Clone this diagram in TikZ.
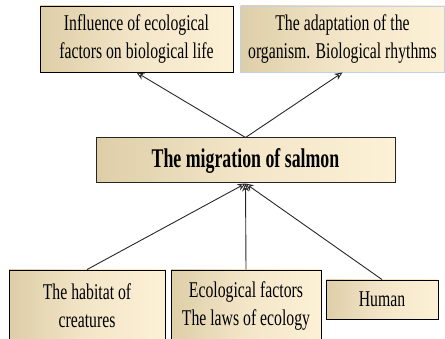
\documentclass[tikz,border=0pt]{standalone}
\usepackage{fontspec}
\setmainfont{Liberation Serif}[FakeStretch=0.7]
\newfontfamily\titlefont{Liberation Serif}[FakeStretch=0.66]
\usetikzlibrary{arrows.meta}
\definecolor{tanL}{RGB}{222,206,168}
\definecolor{tanR}{RGB}{252,240,214}
\definecolor{lineC}{RGB}{40,40,40}
\definecolor{blueB}{RGB}{196,208,228}
\tikzset{
  box/.style={draw=black, line width=0.9pt, left color=tanL, right color=tanR, middle color=tanR!70!tanL,
    align=center, inner sep=0pt, font=\fontsize{22.5}{28}\selectfont},
  conn/.style={draw=lineC, line width=0.9pt, -{Stealth[length=8pt,width=7pt,open]}},
}
\begin{document}
\begin{tikzpicture}[x=1pt,y=-1pt]
\useasboundingbox (0,0) rectangle (445,339);
\node[box, minimum width=193pt, minimum height=66pt] (tl) at (136.5,39) {Influence of ecological\\factors on biological life};
\node[box, draw=blueB, minimum width=204pt, minimum height=66pt] (tr) at (342.5,39) {The adaptation of the\\organism. Biological rhythms};
\node[box, line width=1pt, draw=black!85, minimum width=299pt, minimum height=45pt, font=\titlefont\fontsize{27}{30}\selectfont\bfseries] (mid) at (245.5,160.5) {The migration of salmon};
\node[box, minimum width=156pt, minimum height=72pt] (bl) at (87,306) {The habitat of\\creatures};
\node[box, minimum width=150pt, minimum height=72pt] (bm) at (246,306) {Ecological factors\\The laws of ecology};
\node[box, minimum width=112pt, minimum height=39pt] (hu) at (382,299.5) {Human};
\draw[conn] (mid.north) -- (tl.south);
\draw[conn] (mid.north) -- (tr.south);
\draw[conn] (bl.north) -- (mid.south);
\draw[conn] (bm.north) -- (mid.south);
\draw[conn] (hu.north) -- (mid.south);
\end{tikzpicture}
\end{document}
